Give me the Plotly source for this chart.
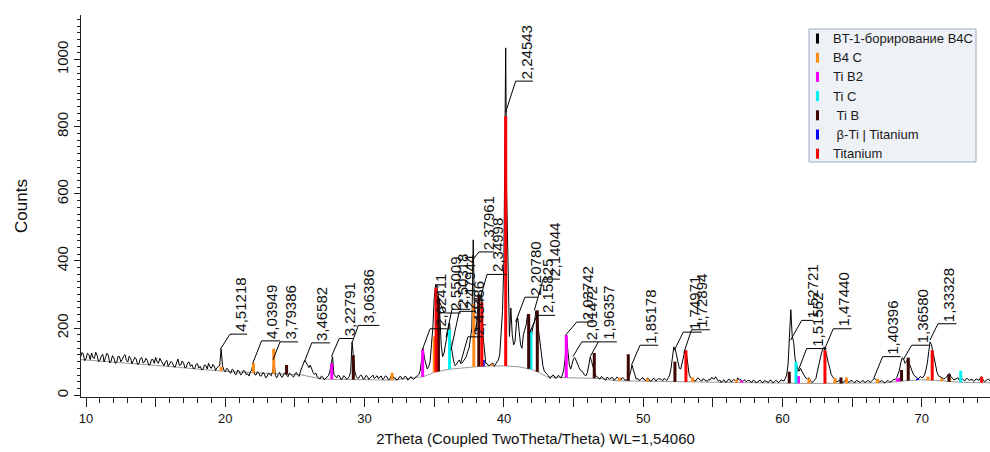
import numpy as np
import plotly.graph_objects as go

WAVELENGTH = 1.54060

# ---------------- measured pattern (read from the picture) ----------------
# counts on a 0.1 degree grid that starts at 9.6 degrees 2Theta (20 values = 2 degrees per row)
grid_start = 9.6
grid_step = 0.1
grid_counts = [
    112, 127, 124, 103, 108, 125, 121, 106, 126, 112, 110, 128, 118, 100, 104, 117, 122, 99, 113, 125,   # 9.6
    119, 96, 101, 118, 112, 95, 97, 116, 115, 100, 106, 117, 121, 104, 99, 116, 110, 94, 103, 113,      # 11.6
    108, 92, 94, 109, 112, 96, 99, 110, 104, 90, 91, 106, 107, 95, 113, 99, 95, 110, 102, 93,           # 13.6
    88, 99, 104, 86, 92, 101, 97, 85, 84, 98, 108, 89, 90, 102, 96, 82, 83, 97, 99, 86,                 # 15.6
    91, 80, 79, 92, 94, 81, 86, 76, 77, 90, 89, 78, 95, 84, 80, 92, 87, 74, 82, 85,                     # 17.6
    90, 138, 88, 74, 70, 80, 77, 68, 66, 78, 74, 62, 63, 75, 71, 60, 65, 74, 72, 61,                    # 19.6
    64, 57, 70, 75, 97, 62, 60, 70, 67, 57, 58, 68, 64, 52, 55, 66, 63, 58, 72, 100,                    # 21.6
    58, 52, 62, 68, 56, 53, 64, 67, 60, 55, 66, 62, 58, 54, 63, 68, 60, 56, 72, 84,                     # 23.6
    92, 104, 98, 88, 82, 90, 76, 68, 62, 66, 55, 50, 48, 57, 54, 46, 50, 55, 58, 70,                    # 25.6
    100, 115, 62, 56, 52, 60, 57, 47, 49, 58, 55, 48, 50, 56, 70, 159, 120, 70, 56, 50,                 # 27.6
    52, 60, 58, 48, 49, 59, 56, 47, 51, 57, 60, 50, 53, 58, 49, 55, 57, 46, 51, 58,                     # 29.6
    55, 46, 48, 57, 60, 50, 52, 45, 47, 55, 56, 48, 50, 57, 54, 45, 48, 55, 53, 47,                     # 31.6
    50, 56, 58, 62, 75, 115, 139, 110, 92, 78, 85, 100, 150, 200, 290, 330, 320, 295, 240, 150,         # 33.6
    115, 125, 150, 175, 190, 215, 150, 120, 100, 88, 92, 100, 105, 95, 96, 102, 108, 115, 130, 140,     # 35.6
    170, 200, 463, 210, 190, 240, 300, 290, 305, 180, 130, 95, 94, 88, 90, 94, 96, 86, 92, 98,          # 37.6
    105, 120, 180, 250, 400, 820, 600, 330, 175, 260, 180, 150, 160, 215, 230, 190, 150, 140, 180, 195, # 39.6
    210, 242, 200, 195, 185, 205, 220, 252, 230, 190, 150, 110, 88, 72, 66, 62, 58, 50, 54, 60,         # 41.6
    58, 50, 52, 59, 56, 51, 60, 75, 110, 179, 130, 90, 78, 95, 109, 112, 100, 88, 82, 74,               # 43.6
    72, 66, 60, 58, 68, 90, 114, 100, 80, 70, 58, 55, 52, 48, 56, 53, 49, 45, 54, 52,                   # 45.6
    48, 52, 53, 45, 47, 54, 52, 48, 45, 53, 50, 44, 46, 51, 55, 70, 90, 75, 58, 48,                     # 47.6
    50, 44, 46, 51, 52, 45, 44, 51, 49, 42, 43, 49, 50, 43, 45, 50, 48, 47, 43, 50,                     # 49.6
    47, 44, 52, 60, 80, 115, 144, 138, 120, 95, 80, 78, 100, 118, 134, 128, 85, 62, 52, 50,             # 51.6
    48, 42, 44, 51, 50, 44, 42, 49, 47, 43, 41, 47, 45, 53, 50, 48, 55, 47, 42, 45,                     # 53.6
    38, 43, 46, 39, 40, 46, 48, 40, 42, 47, 45, 42, 52, 45, 47, 41, 43, 46, 40, 44,                     # 55.6
    44, 40, 38, 45, 43, 37, 39, 43, 45, 39, 37, 44, 42, 41, 38, 45, 44, 37, 39, 44,                     # 57.6
    43, 38, 40, 46, 45, 42, 50, 60, 90, 170, 255, 175, 160, 110, 95, 78, 72, 80, 70, 62,                # 59.6
    55, 50, 48, 52, 44, 38, 40, 46, 50, 70, 90, 108, 125, 138, 144, 132, 110, 95, 80, 62,               # 61.6
    55, 48, 45, 40, 41, 44, 47, 37, 39, 45, 44, 40, 38, 44, 43, 39, 37, 44, 42, 40,                     # 63.6
    38, 42, 44, 38, 39, 44, 43, 38, 41, 46, 50, 47, 44, 40, 39, 44, 42, 37, 38, 43,                     # 65.6
    43, 39, 40, 45, 46, 48, 52, 62, 75, 98, 112, 108, 95, 100, 110, 95, 85, 70, 62, 57,                 # 67.6
    55, 50, 50, 56, 52, 54, 60, 75, 95, 130, 159, 150, 130, 105, 85, 68, 58, 55, 52, 49,                # 69.6
    48, 52, 55, 62, 65, 55, 50, 46, 47, 51, 52, 44, 48, 50, 45, 43, 50, 49, 44, 46,                     # 71.6
    48, 42, 43, 49, 47, 44, 52, 55, 46, 41, 42, 47, 48, 42, 44,                                         # 73.6
]
# extra point at the main maximum (between grid points)
peak_theta = [40.13]
peak_counts = [1035]

# fitted background (grey curve)
bg_theta = [9.64, 12, 15, 18, 20, 22, 24, 25.4, 27.0, 28, 30, 32, 34.2, 35, 36, 37, 38,
            39, 40, 41, 42, 42.6, 43.07, 44.5, 46.9, 48, 52, 56, 60, 62, 66, 67.5, 68.5,
            70, 71, 72, 73, 75]
bg_counts = [106, 99, 89, 78, 71, 67, 63, 61, 48, 47, 46, 45, 55, 68, 77, 82, 85,
             87, 87.5, 85, 77, 66, 55, 52, 50, 43, 40, 38, 36, 35, 35, 37, 42,
             46, 44, 40, 38, 37]

# ---------------- reference phases (stick patterns) ----------------
phase_names = ["BT-1-борирование B4C", "B4 C", "Ti B2", "Ti C", "\u00a0Ti B",
               "\u00a0β-Ti | Titanium", "Titanium"]
phase_colors = ["#000000", "#ff8c1a", "#ff00ff", "#00f0f0", "#3f0505", "#0000ff", "#ff0000"]

b4c_theta = [19.70, 22.02, 23.48, 31.97, 35.00, 37.84, 39.15, 48.3, 50.3, 53.55, 56.7,
             61.9, 63.77, 64.6, 66.83, 70.45, 71.43, 72.0]
b4c_top = [85, 95, 139, 67, 175, 272, 92, 52, 50, 53, 46, 50, 51, 53, 49, 55, 50, 52]
tib2_theta = [27.64, 34.17, 44.48, 57.07, 61.15, 68.25, 68.40]
tib2_top = [95, 136, 179, 44, 57, 50, 52]
tic_theta = [36.10, 41.95, 60.97, 72.80]
tic_top = [195, 190, 100, 73]
tib_theta = [24.40, 29.19, 35.30, 38.20, 41.78, 42.40, 46.49, 48.93, 52.28, 60.49, 64.2,
             68.55, 69.03, 71.95]
tib_top = [90, 119, 290, 300, 242, 253, 126, 122, 100, 70, 53, 75, 112, 62]
beta_theta = [38.52, 55.63, 69.70]
beta_top = [105, 38, 50]
ti_theta = [35.13, 38.42, 40.13, 53.07, 63.05, 70.75, 74.30]
ti_top = [320, 277, 831, 134, 134, 134, 55]

# ---------------- peak labels (d-spacings) ----------------
label_d = ["4,51218", "4,03949", "3,79386", "3,46582", "3,22791", "3,06386",
           "2,62411", "2,55009", "2,50318", "2,47944", "2,43486", "2,37961", "2,34998",
           "2,24543", "2,20780", "2,15825", "2,14044", "2,03742", "2,01472", "1,96357",
           "1,85178", "1,74971", "1,72894", "1,52721", "1,51552", "1,47440", "1,40396",
           "1,36580", "1,33328"]
# counts at which each leader starts
label_start = [138, 97, 106, 100, 115, 159, 135, 300, 173, 135, 95, 404, 283,
               843, 218, 183, 253, 179, 115, 115, 90, 134, 126, 164, 70, 134, 50, 105, 164]
# leader geometry (layout): elbow offset in degrees, elbow level in counts, shelf length
label_dx = [0.68, 0.62, 0.50, 0.52, 0.57, 0.43, 0.56, 0.55, 0.43, 0.60, 0.53, 0.43, 0.52,
            0.72, 0.67, 0.56, 0.64, 0.80, 0.64, 0.59, 0.61, 0.64, 0.56, 0.80, 0.64, 0.65,
            0.64, 0.61, 0.58]
label_elbow = [182, 162, 159, 156, 169, 208, 198, 245, 256, 250, 174, 427, 360,
               936, 292, 238, 346, 218, 159, 159, 149, 188, 195, 223, 139, 198, 115, 149, 213]
label_shelf = [1.22, 1.32, 1.29, 1.32, 0.99, 1.51, 1.22, 1.2, 1.3, 1.2, 1.1, 1.1, 1.4,
               1.24, 0.94, 1.3, 1.2, 1.19, 1.19, 1.32, 1.31, 1.32, 1.32, 0.83, 1.43, 1.32,
               1.29, 1.32, 1.33]

x_tick_vals = [10, 15, 20, 25, 30, 35, 40, 45, 50, 55, 60, 65, 70]
x_tick_text = ["10", "", "20", "", "30", "", "40", "", "50", "", "60", "", "70"]
y_tick_vals = [0, 200, 400, 600, 800, 1000]

FONT = "Arial, 'Liberation Sans', sans-serif"

# ---------------- build ----------------
grid_theta = np.round(grid_start + grid_step * np.arange(len(grid_counts)), 2)
prof_t = np.concatenate([grid_theta, np.array(peak_theta)])
prof_c = np.concatenate([np.array(grid_counts, float), np.array(peak_counts, float)])
order = np.argsort(prof_t, kind="stable")
prof_t, prof_c = prof_t[order], prof_c[order]

fig = go.Figure()

fig.add_trace(go.Scatter(x=bg_theta, y=bg_counts, mode="lines",
                         line=dict(color="#9a9a9a", width=1), hoverinfo="skip",
                         showlegend=False))
fig.add_trace(go.Scatter(x=prof_t, y=prof_c, mode="lines",
                         line=dict(color="#000000", width=1), name=phase_names[0],
                         showlegend=False))


def sticks(thetas, tops):
    xs, ys = [], []
    for t, h in zip(thetas, tops):
        base = float(np.interp(t, bg_theta, bg_counts))
        xs += [t, t, None]
        ys += [base, h, None]
    return xs, ys


phase_data = [(b4c_theta, b4c_top), (tib2_theta, tib2_top), (tic_theta, tic_top),
              (tib_theta, tib_top), (beta_theta, beta_top), (ti_theta, ti_top)]
for (th, tp), nm, col in zip(phase_data, phase_names[1:], phase_colors[1:]):
    xs, ys = sticks(th, tp)
    fig.add_trace(go.Scatter(x=xs, y=ys, mode="lines", line=dict(color=col, width=3),
                             name=nm, showlegend=False))

# leaders
lx, ly = [], []
annotations = []
for d, s, dx, e, sh in zip(label_d, label_start, label_dx, label_elbow, label_shelf):
    dval = float(d.replace(",", "."))
    tt = 2 * np.degrees(np.arcsin(WAVELENGTH / (2 * dval)))
    xe = tt + dx
    lx += [tt, xe, xe + sh, None]
    ly += [s, e, e, None]
    annotations.append(dict(x=xe, y=e, xref="x", yref="y", text=d, showarrow=False,
                            textangle=-90, xanchor="left", yanchor="bottom",
                            font=dict(family=FONT, size=15, color="#111111")))
fig.add_trace(go.Scatter(x=lx, y=ly, mode="lines", line=dict(color="#000000", width=1),
                         hoverinfo="skip", showlegend=False))

# ---------------- manual legend box ----------------
W, H = 990, 452
ML, MR, MT, MB = 81, 0, 15, 55
PW, PH = W - ML - MR, H - MT - MB


def px(xp):
    return (xp - ML) / PW


def py(yp):
    return (H - MB - yp) / PH


shapes = [dict(type="rect", xref="paper", yref="paper", x0=px(809), x1=px(976),
               y0=py(162), y1=py(29), fillcolor="#eef1f6",
               line=dict(color="#9eabc0", width=1), layer="above")]
for i, (nm, col) in enumerate(zip(phase_names, phase_colors)):
    yc = 38.5 + i * 19.2
    shapes.append(dict(type="line", xref="paper", yref="paper", x0=px(817.5), x1=px(817.5),
                       y0=py(yc + 5), y1=py(yc - 5), line=dict(color=col, width=3),
                       layer="above"))
    annotations.append(dict(x=px(831), y=py(yc), xref="paper", yref="paper", text=nm,
                            showarrow=False, xanchor="left", yanchor="middle",
                            font=dict(family=FONT, size=13, color="#1a1a1a")))

fig.update_layout(
    width=W, height=H, margin=dict(l=ML, r=MR, t=MT, b=MB, autoexpand=False),
    paper_bgcolor="white", plot_bgcolor="white", showlegend=False,
    font=dict(family=FONT, color="#111111"),
    shapes=shapes, annotations=annotations,
    xaxis=dict(range=[9.64, 74.9], tickmode="array", tickvals=x_tick_vals,
               ticktext=x_tick_text, ticks="outside", ticklen=9, tickwidth=1,
               tickcolor="#222222", showline=True, linecolor="#222222", linewidth=1,
               showgrid=False, zeroline=False, tickfont=dict(size=13, color="#111111"),
               minor=dict(dtick=1, tick0=0, ticks="outside", ticklen=5, tickwidth=1,
                          tickcolor="#222222", showgrid=False),
               title=dict(text="2Theta (Coupled TwoTheta/Theta) WL=1,54060",
                          font=dict(size=15, color="#111111"), standoff=8)),
    yaxis=dict(range=[-5.3, 1133], tickmode="array", tickvals=y_tick_vals,
               ticks="outside", ticklen=6, tickwidth=1, tickcolor="#222222",
               showline=True, linecolor="#222222", linewidth=1, showgrid=False,
               zeroline=False, tickangle=-90, tickfont=dict(size=15, color="#111111"),
               minor=dict(dtick=20, tick0=0, ticks="outside", ticklen=3, tickwidth=1,
                          tickcolor="#222222", showgrid=False),
               title=dict(text="Counts", font=dict(size=17, color="#111111"), standoff=22)),
)

fig.write_html("out.html")
